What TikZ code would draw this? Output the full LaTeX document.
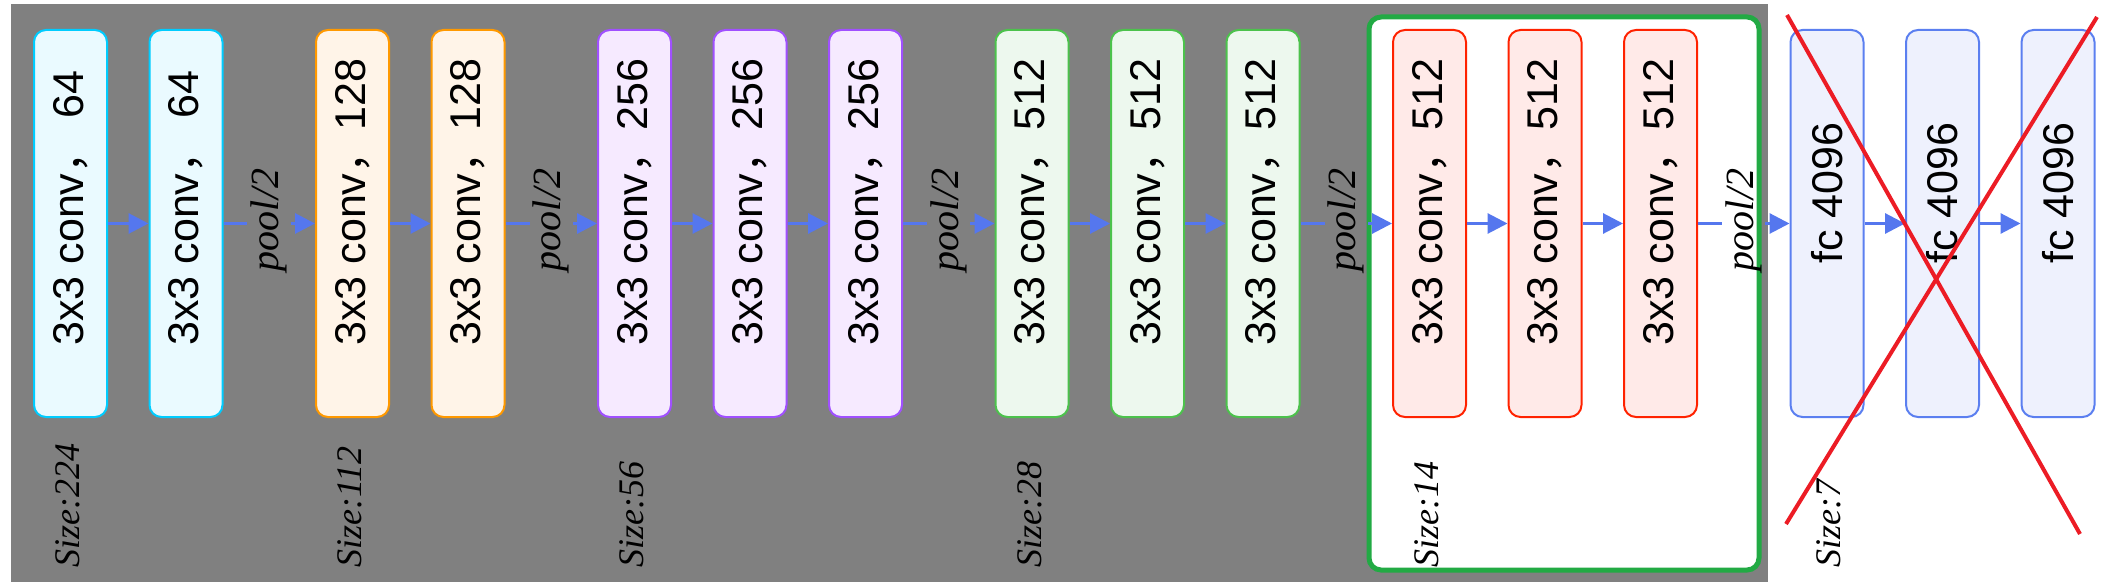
\documentclass[tikz,border=0pt]{standalone}
\usepackage{fontspec}
\setmainfont{Liberation Serif}
\newfontfamily\boxfont{Liberation Sans}
\newfontfamily\cjk{Noto Sans CJK SC}
\usepackage{xcolor}
\usepackage{tikz}
\usetikzlibrary{positioning}
\usetikzlibrary{arrows.meta}

\definecolor{bggray}{RGB}{128,128,128}
\definecolor{cyanline}{RGB}{0,204,255}
\definecolor{cyanfill}{RGB}{234,250,255}
\definecolor{orangeline}{RGB}{255,153,0}
\definecolor{orangefill}{RGB}{255,244,232}
\definecolor{purpleline}{RGB}{160,80,255}
\definecolor{purplefill}{RGB}{246,234,255}
\definecolor{greenline}{RGB}{76,194,76}
\definecolor{greenfill}{RGB}{237,248,238}
\definecolor{redline}{RGB}{255,34,0}
\definecolor{redfill}{RGB}{255,234,232}
\definecolor{blueline}{RGB}{91,127,240}
\definecolor{bluefill}{RGB}{238,241,253}
\definecolor{arrowblue}{RGB}{85,119,238}
\definecolor{framegreen}{RGB}{34,170,68}
\definecolor{xred}{RGB}{236,28,37}

\tikzset{
  box/.style={rounded corners=6pt, line width=1pt, minimum width=36.5pt, minimum height=193.5pt, inner sep=0pt},
  cyanbox/.style={box, draw=cyanline, fill=cyanfill},
  orangebox/.style={box, draw=orangeline, fill=orangefill},
  purplebox/.style={box, draw=purpleline, fill=purplefill},
  greenbox/.style={box, draw=greenline, fill=greenfill},
  redbox/.style={box, draw=redline, fill=redfill},
  bluebox/.style={box, draw=blueline, fill=bluefill},
  convtext/.style={rotate=90, anchor=west, inner sep=0pt, font=\boxfont\fontsize{21.5}{22}\selectfont},
  pooltext/.style={rotate=90, inner sep=1.5pt, font=\itshape\fontsize{20}{22}\selectfont},
  sizetext/.style={rotate=90, anchor=west, inner sep=0pt, font=\itshape\fontsize{18}{20}\selectfont},
  flow/.style={draw=arrowblue, line width=1.5pt},
  arr/.style={flow, -{Triangle[length=10pt,width=10pt]}},
  frame/.style={draw=framegreen, fill=white, line width=2.5pt, rounded corners=6pt},
  cross/.style={draw=xred, line width=2pt}
}

\begin{document}
\begin{tikzpicture}[x=0.5pt,y=-0.5pt]
\useasboundingbox (0,0) rectangle (2124,588);
\fill[bggray] (11,4) rectangle (1768,582);
\draw[frame] (1369,17) rectangle (1759,570);

\node[cyanbox] (c1) at (70.5,223.5) {};
\node[cyanbox] (c2) at (186,223.5) {};
\node[orangebox] (c3) at (352.5,223.5) {};
\node[orangebox] (c4) at (468,223.5) {};
\node[purplebox] (c5) at (634.5,223.5) {};
\node[purplebox] (c6) at (750,223.5) {};
\node[purplebox] (c7) at (865.5,223.5) {};
\node[greenbox] (c8) at (1032,223.5) {};
\node[greenbox] (c9) at (1147.5,223.5) {};
\node[greenbox] (c10) at (1263,223.5) {};
\node[redbox] (c11) at (1429.5,223.5) {};
\node[redbox] (c12) at (1545,223.5) {};
\node[redbox] (c13) at (1660.5,223.5) {};
\node[bluebox] (f1) at (1827,223.5) {};
\node[bluebox] (f2) at (1942.5,223.5) {};
\node[bluebox] (f3) at (2058,223.5) {};

\node[convtext] (t1) at (70.5,346) {3x3 conv{\cjk ，} 64};
\node[convtext] (t2) at (186,346) {3x3 conv{\cjk ，} 64};
\node[convtext] (t3) at (352.5,346) {3x3 conv{\cjk ，}128};
\node[convtext] (t4) at (468,346) {3x3 conv{\cjk ，}128};
\node[convtext] (t5) at (634.5,346) {3x3 conv{\cjk ，}256};
\node[convtext] (t6) at (750,346) {3x3 conv{\cjk ，}256};
\node[convtext] (t7) at (865.5,346) {3x3 conv{\cjk ，}256};
\node[convtext] (t8) at (1032,346) {3x3 conv{\cjk ，}512};
\node[convtext] (t9) at (1147.5,346) {3x3 conv{\cjk ，}512};
\node[convtext] (t10) at (1263,346) {3x3 conv{\cjk ，}512};
\node[convtext] (t11) at (1429.5,346) {3x3 conv{\cjk ，}512};
\node[convtext] (t12) at (1545,346) {3x3 conv{\cjk ，}512};
\node[convtext] (t13) at (1660.5,346) {3x3 conv{\cjk ，}512};
\node[convtext] (ft1) at (1827,264) {fc 4096};
\node[convtext] (ft2) at (1942.5,264) {fc 4096};
\node[convtext] (ft3) at (2058,264) {fc 4096};

\node[pooltext] (p1) at (269,220) {pool/2};
\node[pooltext] (p2) at (551.25,220) {pool/2};
\node[pooltext] (p3) at (948.75,220) {pool/2};
\node[pooltext] (p4) at (1346.25,220) {pool/2};
\node[pooltext] (p5) at (1743.75,220) {pool/2};

\node[sizetext] (s1) at (68,568) {Size:224};
\node[sizetext] (s2) at (350,568) {Size:112};
\node[sizetext] (s3) at (632,568) {Size:56};
\node[sizetext] (s4) at (1030,568) {Size:28};
\node[sizetext] (s5) at (1427,568) {Size:14};
\node[sizetext] (s6) at (1829,568) {Size:7};

\draw[arr] (c1.east) -- (c2.west);
\draw[flow] (c2.east) -- (p1.north |- c2.east);
\draw[arr] (p1.south |- c2.east) -- (c3.west);
\draw[arr] (c3.east) -- (c4.west);
\draw[flow] (c4.east) -- (p2.north |- c4.east);
\draw[arr] (p2.south |- c4.east) -- (c5.west);
\draw[arr] (c5.east) -- (c6.west);
\draw[arr] (c6.east) -- (c7.west);
\draw[flow] (c7.east) -- (p3.north |- c7.east);
\draw[arr] (p3.south |- c7.east) -- (c8.west);
\draw[arr] (c8.east) -- (c9.west);
\draw[arr] (c9.east) -- (c10.west);
\draw[flow] (c10.east) -- (p4.north |- c10.east);
\draw[arr] (p4.south |- c10.east) -- (c11.west);
\draw[arr] (c11.east) -- (c12.west);
\draw[arr] (c12.east) -- (c13.west);
\draw[flow] (c13.east) -- (p5.north |- c13.east);
\draw[arr] (p5.south |- c13.east) -- (f1.west);
\draw[arr] (f1.east) -- (f2.west);
\draw[arr] (f2.east) -- (f3.west);

\draw[cross] (1787,15) -- (2080,534);
\draw[cross] (2097,17) -- (1786,524);
\end{tikzpicture}
\end{document}
